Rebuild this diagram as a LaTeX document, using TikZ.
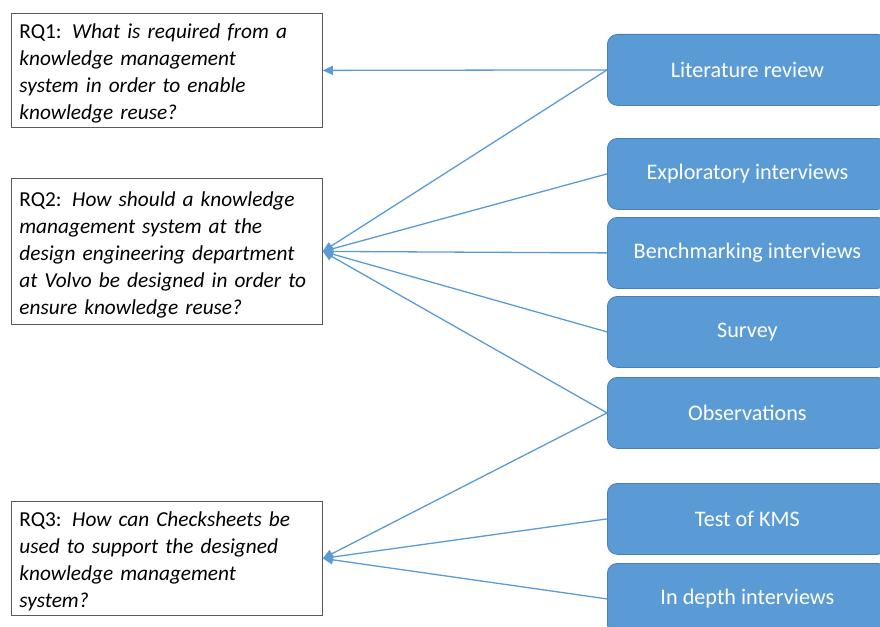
\documentclass[tikz,border=0pt]{standalone}
\usepackage{fontspec}
\setmainfont{Carlito}
\usetikzlibrary{arrows.meta}
\definecolor{boxblue}{HTML}{5B9BD5}
\definecolor{boxedge}{HTML}{4A7FB8}
\definecolor{linkblue}{HTML}{5B9BD5}
\newcommand{\firstline}{\rule{0pt}{21pt}}
\begin{document}
\begin{tikzpicture}[x=1pt,y=-1pt,
  rq/.style={draw=black!65, line width=0.8pt, fill=white, anchor=north west,
    text width=295pt, inner xsep=8pt, inner ysep=0pt, minimum width=311pt,
    align=left, font=\fontsize{21.3}{27}\selectfont},
  method/.style={draw=boxedge, line width=0.8pt, fill=boxblue, rounded corners=10pt,
    anchor=north west, minimum width=280pt, minimum height=71pt, text=white,
    font=\fontsize{22.2}{24}\selectfont},
  link/.style={draw=linkblue, line width=1.3pt, -{Triangle[length=10pt,width=9pt]}}
]
\useasboundingbox (0,0) rectangle (880,626);

% research questions
\node[rq, minimum height=114pt] (rq1) at (11,13)
  {\firstline RQ1: \textit{What is required from a}\\\textit{knowledge management}\\\textit{system in order to enable}\\\textit{knowledge reuse?}};
\node[rq, minimum height=146pt] (rq2) at (11,178)
  {\firstline RQ2: \textit{How should a knowledge}\\\textit{management system at the}\\\textit{design engineering department}\\\textit{at Volvo be designed in order to}\\\textit{ensure knowledge reuse?}};
\node[rq, minimum height=114pt] (rq3) at (11,501)
  {\firstline RQ3: \textit{How can Checksheets be}\\\textit{used to support the designed}\\\textit{knowledge management}\\\textit{system?}};

% research methods
\node[method] (lit) at (607,34) {Literature review};
\node[method] (expl) at (607,138) {Exploratory interviews};
\node[method] (bench) at (607,217) {Benchmarking interviews};
\node[method] (survey) at (607,296) {Survey};
\node[method] (obs) at (607,377) {Observations};
\node[method] (test) at (607,483) {Test of KMS};
\node[method] (depth) at (607,563) {In depth interviews};

% which method feeds which question
\draw[link] (lit.west) -- (rq1.east);
\draw[link] (lit.west) -- (rq2.east);
\draw[link] (expl.west) -- (rq2.east);
\draw[link] (bench.west) -- (rq2.east);
\draw[link] (survey.west) -- (rq2.east);
\draw[link] (obs.west) -- (rq2.east);
\draw[link] (obs.west) -- (rq3.east);
\draw[link] (test.west) -- (rq3.east);
\draw[link] (depth.west) -- (rq3.east);
\end{tikzpicture}
\end{document}
